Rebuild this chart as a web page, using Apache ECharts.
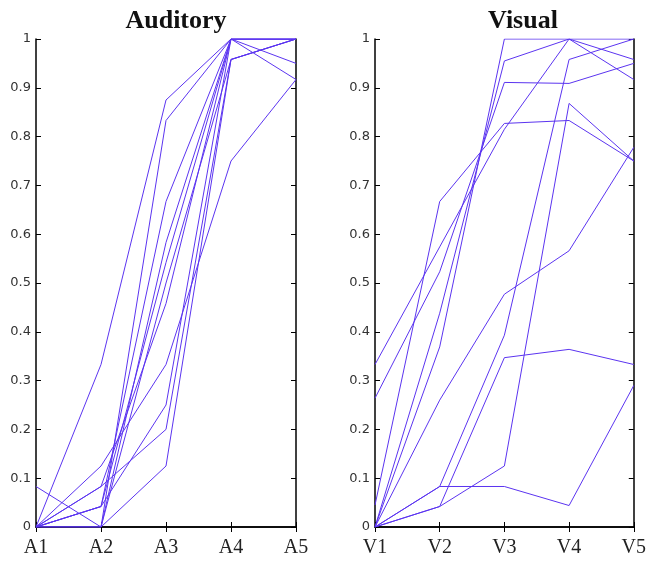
<!DOCTYPE html>
<html>
<head>
<meta charset="utf-8">
<script src="https://cdn.jsdelivr.net/npm/echarts@6/dist/echarts.min.js"></script>
<style>html,body{margin:0;padding:0;background:#fff}#c{width:649px;height:561px}</style>
</head>
<body>
<div id="c"></div>
<script>
var audCats = ['A1','A2','A3','A4','A5'];
var visCats = ['V1','V2','V3','V4','V5'];
var yTicks = [0,0.1,0.2,0.3,0.4,0.5,0.6,0.7,0.8,0.9,1];

var audA1 = [0,0,0,0,0.083,0,0,0,0,0,0];
var audA2 = [0.333,0,0.042,0.042,0,0.083,0.125,0.042,0.083,0,0];
var audA3 = [0.875,0.833,0.667,0.542,0.5,0.458,0.333,0.25,0.2,0.125,0.583];
var audA4 = [1,1,1,1,0.958,1,0.75,1,0.958,0.958,1];
var audA5 = [1,0.95,1,1,1,1,0.917,0.917,1,1,1];

var visV1 = [0.333,0.264,0.045,0,0,0,0,0,0,0];
var visV2 = [0.574,0.523,0.667,0.438,0.369,0.083,0.042,0.26,0.083,0.042];
var visV3 = [0.815,0.911,0.827,0.955,1,0.083,0.347,0.477,0.393,0.125];
var visV4 = [1,0.909,0.833,1,1,0.044,0.364,0.566,0.958,0.868];
var visV5 = [0.958,0.95,0.75,0.917,1,0.29,0.333,0.778,1,0.75];

var lineColor = '#5b34f0';

function buildSeries(cols, xi, yi) {
  var out = [];
  for (var i = 0; i < cols[0].length; i++) {
    out.push({
      type: 'line', xAxisIndex: xi, yAxisIndex: yi, symbol: 'none',
      lineStyle: {color: lineColor, width: 1}, silent: true,
      data: cols.map(function (c) { return c[i]; })
    });
  }
  return out;
}

var axisLine = {show: true, lineStyle: {color: '#000', width: 1.5}};
function xBottom(cats, gi) {
  return {type: 'category', gridIndex: gi, data: cats, boundaryGap: false, position: 'bottom',
    axisLine: axisLine, axisTick: {show: true, inside: true, length: 5, alignWithLabel: true, lineStyle: {color: '#000'}},
    axisLabel: {fontFamily: 'Liberation Serif', fontSize: 20, color: '#222', margin: 11},
    splitLine: {show: false}};
}
function xTop(cats, gi) {
  return {type: 'category', gridIndex: gi, data: cats, boundaryGap: false, position: 'top',
    axisLine: axisLine, axisTick: {show: true, inside: true, length: 5, lineStyle: {color: '#000'}},
    axisLabel: {show: false}, splitLine: {show: false}};
}
function yLeft(gi) {
  return {type: 'value', gridIndex: gi, min: 0, max: 1, interval: 0.1, position: 'left',
    axisLine: axisLine, axisTick: {show: true, inside: true, length: 5, lineStyle: {color: '#000'}},
    axisLabel: {fontFamily: 'DejaVu Sans', fontSize: 13, color: '#333', margin: 5,
      formatter: function (v) { var r = Math.round(v * 10) / 10; return yTicks.indexOf(r) >= 0 ? String(r) : ''; }},
    splitLine: {show: false}};
}
function yRight(gi) {
  return {type: 'value', gridIndex: gi, min: 0, max: 1, interval: 0.1, position: 'right',
    axisLine: axisLine, axisTick: {show: true, inside: true, length: 5, lineStyle: {color: '#000'}},
    axisLabel: {show: false}, splitLine: {show: false}};
}

var chart = echarts.init(document.getElementById('c'), null, {renderer: 'canvas'});
chart.setOption({
  animation: false,
  backgroundColor: '#fff',
  title: [
    {text: 'Auditory', left: 171, top: 3, textAlign: 'center',
      textStyle: {fontFamily: 'Liberation Serif', fontWeight: 'bold', fontSize: 26, color: '#111'}},
    {text: 'Visual', left: 518, top: 3, textAlign: 'center',
      textStyle: {fontFamily: 'Liberation Serif', fontWeight: 'bold', fontSize: 26, color: '#111'}}
  ],
  grid: [
    {left: 36, top: 39, width: 260, height: 488},
    {left: 375, top: 39, width: 261, height: 488}
  ],
  xAxis: [xBottom(audCats, 0), xTop(audCats, 0), xBottom(visCats, 1), xTop(visCats, 1)],
  yAxis: [yLeft(0), yRight(0), yLeft(1), yRight(1)],
  series: buildSeries([audA1, audA2, audA3, audA4, audA5], 0, 0)
    .concat(buildSeries([visV1, visV2, visV3, visV4, visV5], 2, 2))
});
</script>
</body>
</html>
